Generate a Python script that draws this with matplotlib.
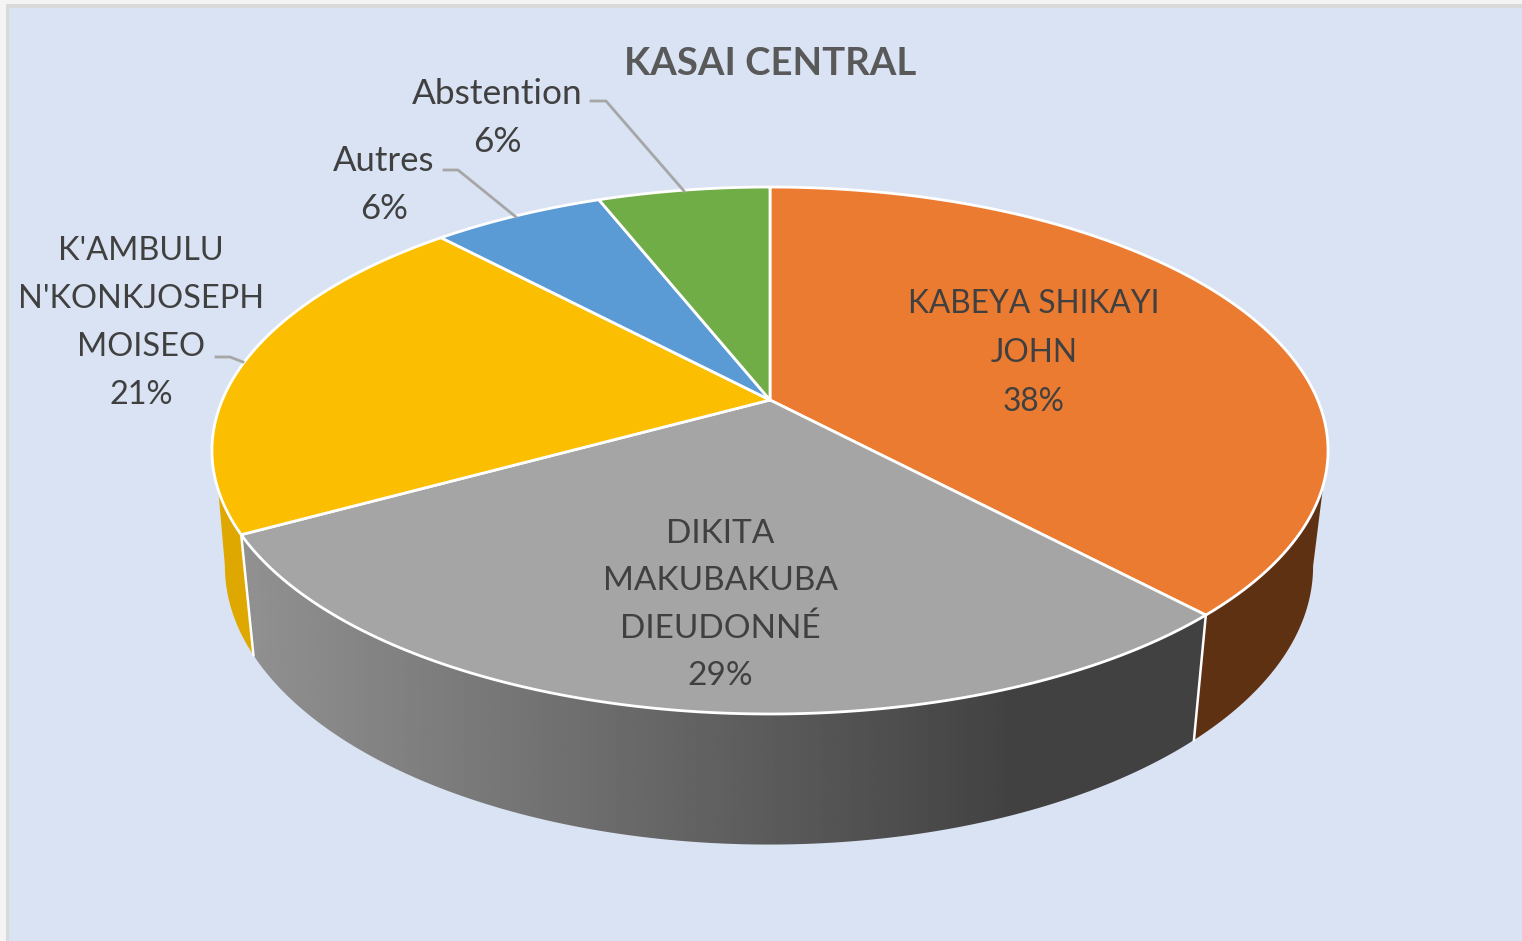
import numpy as np
import matplotlib
matplotlib.use("Agg")
import matplotlib.pyplot as plt
from matplotlib.patches import Polygon, Rectangle

title = "KASAI CENTRAL"
names = ["KABEYA SHIKAYI\nJOHN", "DIKITA\nMAKUBAKUBA\nDIEUDONNÉ", "K'AMBULU\nN'KONKJOSEPH\nMOISEO", "Autres", "Abstention"]
values = [38, 29, 21, 6, 6]
colors = ["#EB7B31", "#A5A5A5", "#FBBE00", "#5B9BD5", "#70AD47"]
label_xy = [(1034, 353), (720, 605), (141, 323), (384, 185), (497, 118)]
label_size = [22.8, 24, 23.4, 25, 25.4]
leaders = [None, None,
           [(216, 357), (230, 357), (243, 362)],
           [(444, 170), (458, 170), (516, 217)],
           [(591, 101), (606, 101), (684, 191)]]

# perspective parameters of the disc (pixels)
PERSP = 0.1917
TOP = dict(cx=770, B=547.7, A=253.8, c=400)
BOT = dict(cx=769, B=534.0, A=268.0, c=513)


def rim(deg, p):
    t = np.radians(deg)
    u, v = np.sin(t), np.cos(t)
    w = 1 + PERSP * v
    return np.column_stack([p["cx"] + p["B"] * u / w, p["c"] - p["A"] * v / w])


fig = plt.figure(figsize=(15.22, 9.41), dpi=100, facecolor="#F2F2F2")
ax = fig.add_axes([0, 0, 1, 1])
ax.set_xlim(0, 1522)
ax.set_ylim(941, 0)
ax.axis("off")
ax.add_patch(Rectangle((0, 0), 1522, 941, fc="#F4F4F4", ec="none", zorder=0))
ax.add_patch(Rectangle((6, 4), 1516, 937, fc="#D9D9D9", ec="none", zorder=0.5))
ax.add_patch(Rectangle((9, 8), 1513, 933, fc="#DAE3F3", ec="none", zorder=1))

edges = np.cumsum([0] + values) / sum(values) * 360
WHITE = dict(ec="white", lw=2.0, joinstyle="round")


def side(a_top, a_bot, a_end, **kw):
    top = rim(np.linspace(a_end, a_top, 40), TOP)
    bot = rim(np.linspace(a_bot, a_end, 60), BOT)
    return Polygon(np.vstack([bot, top]), closed=True, **kw)


# orange (brown) side
ax.add_patch(side(108.3, 101.0, edges[1], fc="#5F3113", ec="none", zorder=2))
# gold side
ax.add_patch(side(250.6, 259.0, edges[2], fc="#DFA800", ec="none", zorder=2))
# grey side with a horizontal gradient
tp = rim(np.linspace(edges[1], edges[2], 120), TOP)
bt = rim(np.linspace(edges[1], edges[2], 120), BOT)
grey_poly = Polygon(np.vstack([tp, bt[::-1]]), closed=True, fc="none", ec="none",
                    transform=ax.transData, zorder=3)
ax.add_patch(grey_poly)
xs = np.linspace(0, 1, 512)
grad = np.interp(xs, [0, 0.8, 1], [0x91, 0x42, 0x42]) / 255
im = ax.imshow(np.tile(grad, (4, 1)), cmap="gray", vmin=0, vmax=1, aspect="auto",
               extent=(243, 1205, 850, 530), zorder=3, interpolation="bilinear")
im.set_clip_path(grey_poly)
ax.set_xlim(0, 1522)
ax.set_ylim(941, 0)
# white lines between the side faces
for a in (edges[1], edges[2]):
    a_t, a_b = rim(a, TOP)[0], rim(a, BOT)[0]
    ax.plot([a_t[0], a_b[0]], [a_t[1], a_b[1]], color="white", lw=1.8, zorder=4)

# top faces
for i, col in enumerate(colors):
    arc = rim(np.linspace(edges[i], edges[i + 1], 120), TOP)
    ax.add_patch(Polygon(np.vstack([[TOP["cx"], TOP["c"]], arc]), closed=True, fc=col, zorder=5, **WHITE))

# labels
FONT = "Lato"
for name, val, size, (x, y), lead in zip(names, values, label_size, label_xy, leaders):
    ax.text(x, y, f"{name}\n{val}%", ha="center", va="center", fontsize=size, family=FONT,
            color="#404040", linespacing=1.7 * 24 / size, zorder=7)
    if lead:
        ax.plot(*zip(*lead), color="#A6A6A6", lw=2.0, zorder=6)

ax.text(770.5, 64, title, ha="center", va="center", fontsize=27.5, family=FONT,
        fontweight="bold", color="#595959", zorder=7)

fig.savefig("out.png", dpi=100, facecolor=fig.get_facecolor())
